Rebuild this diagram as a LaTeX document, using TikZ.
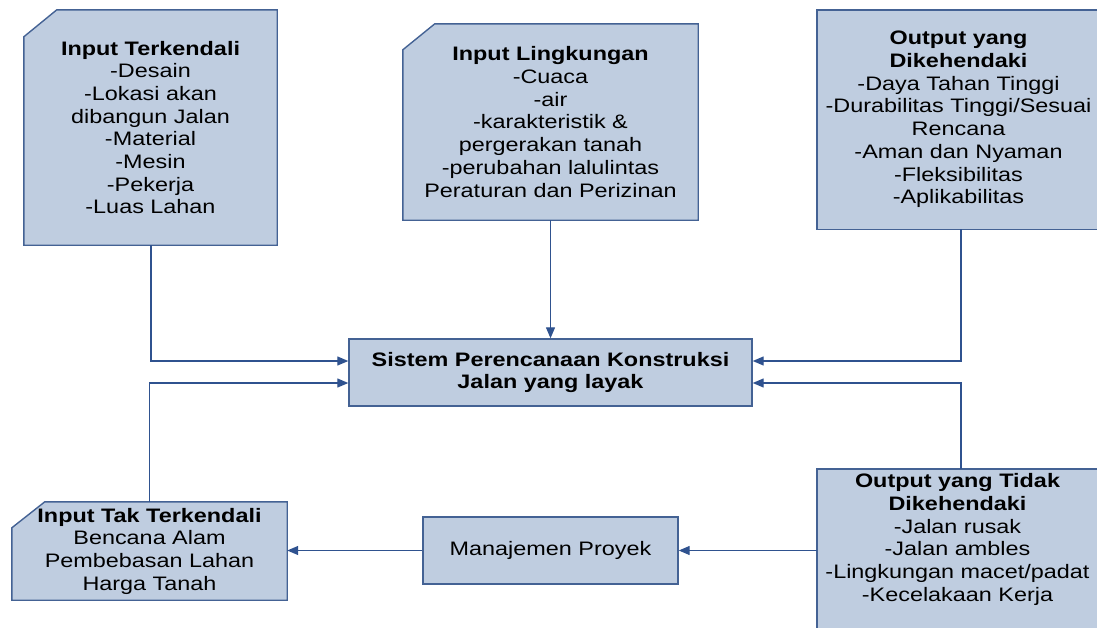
\documentclass[tikz,border=0pt]{standalone}
\usepackage{fontspec}
\setmainfont{Liberation Sans}[FakeStretch=1.2]
\usetikzlibrary{arrows.meta,calc,backgrounds}
\definecolor{boxfill}{RGB}{191,205,224}
\definecolor{boxline}{RGB}{68,98,148}
\definecolor{conn}{RGB}{47,82,143}
\tikzset{
  txt/.style={font=\fontsize{19.5}{22.7}\selectfont, align=center, text=black},
  plain/.style={txt, rectangle, inner sep=0pt},
  boxn/.style={plain, draw=boxline, fill=boxfill, line width=1.4pt},
  ghost/.style={plain, draw=none, fill=none},
  chamf/.style={draw=boxline, fill=boxfill, line width=1.4pt},
  arr/.style={draw=conn, line width=1.3pt, -{Triangle[length=11pt,width=9pt]}},
}
\begin{document}
\begin{tikzpicture}[x=1pt,y=-1pt]
\useasboundingbox (0,0) rectangle (1097,627);
\clip (0,0) rectangle (1097,627);

% nodes
\node[ghost, minimum width=253pt, minimum height=235pt] (b1) at (150.5,127.5)
  {\textbf{Input Terkendali}\\-Desain\\-Lokasi akan\\dibangun Jalan\\-Material\\-Mesin\\-Pekerja\\-Luas Lahan};
\node[ghost, minimum width=295pt, minimum height=196pt] (b2) at (550.5,122)
  {\textbf{Input Lingkungan}\\-Cuaca\\-air\\-karakteristik \&\\pergerakan tanah\\-perubahan lalulintas\\Peraturan dan Perizinan};
\node[ghost, minimum width=283pt, minimum height=219pt] (b3) at (958.5,119.5)
  {\textbf{Output yang}\\\textbf{Dikehendaki}\\-Daya Tahan Tinggi\\-Durabilitas Tinggi/Sesuai\\Rencana\\-Aman dan Nyaman\\-Fleksibilitas\\-Aplikabilitas};
\node[ghost, minimum width=275pt, minimum height=98pt] (b4) at (149.5,551)
  {\textbf{Input Tak Terkendali}\\Bencana Alam\\Pembebasan Lahan\\Harga Tanah};
\node[ghost, minimum width=283pt, minimum height=171pt] (b5) at (958.5,554.5) {};
\node[ghost] (b5t) at (957.5,539.5)
  {\textbf{Output yang Tidak}\\\textbf{Dikehendaki}\\-Jalan rusak\\-Jalan ambles\\-Lingkungan macet/padat\\-Kecelakaan Kerja};
\node[boxn, minimum width=403pt, minimum height=67pt] (c) at (550.5,372.5)
  {\textbf{Sistem Perencanaan Konstruksi}\\\textbf{Jalan yang layak}};
\node[boxn, minimum width=255pt, minimum height=67pt] (m) at (550.5,550.5)
  {Manajemen Proyek};

% box outlines behind text
\begin{scope}[on background layer]
  \path[chamf] (b1.south west) -- ($(b1.north west)+(0,27)$) -- ($(b1.north west)+(33,0)$) -- (b1.north east) -- (b1.south east) -- cycle;
  \path[chamf] (b2.south west) -- ($(b2.north west)+(0,26)$) -- ($(b2.north west)+(32,0)$) -- (b2.north east) -- (b2.south east) -- cycle;
  \path[chamf] (b4.south west) -- ($(b4.north west)+(0,26)$) -- ($(b4.north west)+(33,0)$) -- (b4.north east) -- (b4.south east) -- cycle;
  \path[chamf] (b3.south west) rectangle ($(b3.north east)+(12,0)$);
  \path[chamf] (b5.south west) rectangle ($(b5.north east)+(12,0)$);
\end{scope}

% connectors
\draw[arr] ($(b1.south)+(0.5,0)$) |- ($(c.west)+(0,-11.5)$);
\draw[arr] (b4.north) |- ($(c.west)+(0,10.5)$);
\draw[arr] (b2.south) -- (c.north);
\draw[arr] ($(b3.south)+(2.5,0)$) |- ($(c.east)+(0,-11.5)$);
\draw[arr] ($(b5.north)+(2.5,0)$) |- ($(c.east)+(0,10.5)$);
\draw[arr] (b5.west |- m.east) -- (m.east);
\draw[arr] (m.west) -- (m.west -| b4.east);
\end{tikzpicture}
\end{document}
